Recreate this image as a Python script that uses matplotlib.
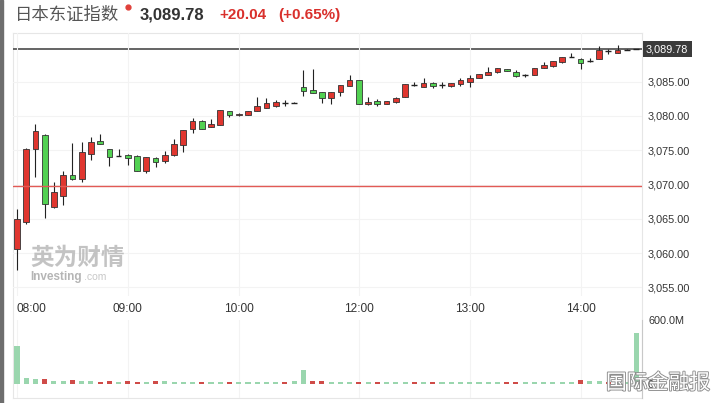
import numpy as np
import matplotlib.pyplot as plt
import matplotlib.patheffects as pe
from matplotlib.lines import Line2D

plt.rcParams['font.family'] = ['Liberation Sans', 'Noto Sans CJK SC', 'DejaVu Sans']

# 5-minute candles, 08:00-10:30 and 11:30-14:30 (Beijing time)
opens = [3060.54, 3064.57, 3075.18, 3077.22, 3066.72, 3068.32, 3071.39, 3070.80, 3074.45, 3076.35,
         3075.18, 3074.18, 3074.35, 3074.16, 3072.01, 3073.91, 3073.39, 3074.26, 3075.76, 3078.05,
         3079.27, 3078.43, 3078.73, 3080.68, 3080.14, 3080.19, 3080.73, 3081.21, 3081.50, 3081.85,
         3081.94, 3084.27, 3083.79, 3083.45, 3082.58, 3083.45, 3084.42, 3085.25, 3081.70, 3082.18,
         3081.75, 3081.99, 3082.72, 3084.52, 3084.27, 3084.77, 3084.52, 3084.37, 3084.67, 3085.00,
         3085.54, 3085.98, 3086.37, 3086.85, 3086.42, 3086.02, 3086.02, 3087.00, 3087.25, 3087.83,
         3088.60, 3088.31, 3087.98, 3088.36, 3089.44, 3089.19, 3089.67, 3089.78]
highs = [3066.42, 3075.33, 3078.83, 3077.30, 3070.41, 3071.97, 3076.10, 3076.20, 3076.97, 3077.37,
         3075.25, 3075.22, 3074.45, 3074.30, 3074.05, 3073.95, 3074.89, 3076.68, 3078.00, 3079.70,
         3079.42, 3079.51, 3080.90, 3080.75, 3080.45, 3080.75, 3082.70, 3082.58, 3082.33, 3082.26,
         3082.00, 3086.71, 3086.81, 3083.50, 3083.50, 3084.55, 3085.98, 3085.30, 3082.72, 3082.43,
         3082.20, 3082.70, 3084.65, 3084.91, 3085.50, 3085.00, 3085.00, 3084.80, 3085.50, 3085.98,
         3086.15, 3087.19, 3087.00, 3086.90, 3086.71, 3086.10, 3087.05, 3087.88, 3088.00, 3088.65,
         3089.19, 3088.46, 3088.46, 3090.17, 3089.80, 3090.40, 3089.75, 3089.80]
lows = [3057.52, 3064.24, 3071.14, 3065.11, 3066.60, 3067.01, 3070.70, 3070.41, 3073.58, 3075.85,
        3072.70, 3074.10, 3072.85, 3071.95, 3071.72, 3072.51, 3073.09, 3074.20, 3074.79, 3077.47,
        3078.05, 3078.40, 3078.70, 3079.81, 3080.05, 3080.15, 3080.70, 3081.15, 3081.31, 3081.46,
        3081.90, 3082.91, 3083.35, 3081.85, 3081.75, 3082.91, 3084.40, 3081.70, 3081.65, 3081.45,
        3081.70, 3081.95, 3082.70, 3084.37, 3084.25, 3084.04, 3084.04, 3084.30, 3084.37, 3084.18,
        3085.50, 3085.95, 3086.30, 3086.50, 3085.75, 3085.70, 3086.00, 3086.95, 3087.20, 3087.80,
        3088.55, 3086.90, 3087.90, 3088.30, 3089.10, 3089.15, 3089.60, 3089.76]
closes = [3064.97, 3075.14, 3077.81, 3067.15, 3068.95, 3071.39, 3070.80, 3074.79, 3076.20, 3075.91,
          3074.06, 3074.14, 3073.91, 3072.01, 3074.01, 3073.28, 3074.26, 3075.91, 3077.95, 3079.27,
          3078.05, 3078.83, 3080.87, 3080.19, 3080.36, 3080.68, 3081.50, 3081.85, 3081.99, 3081.86,
          3081.94, 3083.69, 3083.40, 3082.58, 3083.45, 3084.52, 3085.25, 3081.70, 3082.08, 3081.75,
          3082.18, 3082.67, 3084.62, 3084.53, 3084.77, 3084.37, 3084.53, 3084.77, 3085.25, 3085.50,
          3086.12, 3086.42, 3086.96, 3086.52, 3085.79, 3086.03, 3087.00, 3087.48, 3087.98, 3088.60,
          3088.61, 3087.73, 3087.99, 3089.67, 3089.45, 3089.67, 3089.67, 3089.78]
# volume in millions
volumes = [356, 56, 47, 47, 28, 28, 38, 28, 28, 19,
           28, 15, 28, 19, 19, 28, 28, 19, 19, 19,
           19, 19, 19, 19, 19, 19, 19, 19, 19, 19,
           28, 131, 30, 30, 18, 18, 18, 18, 18, 18,
           18, 18, 18, 18, 18, 18, 18, 18, 18, 18,
           18, 18, 18, 18, 18, 18, 18, 18, 18, 18,
           18, 38, 28, 28, 18, 18, 18, 478]

prev_close = 3069.74
last_price = 3089.78
time_ticks = [0, 12, 24, 37, 49, 61]
time_labels = ['08:00', '09:00', '10:00', '12:00', '13:00', '14:00']
price_ticks = [3055, 3060, 3065, 3070, 3075, 3080, 3085]

W, H = 719, 403
fig = plt.figure(figsize=(W / 100, H / 100), dpi=100)


def px_axes(l, t, r, b):
    return fig.add_axes([l / W, 1 - b / H, (r - l) / W, (b - t) / H])


def fx(x):
    return x / W


def fy(y):
    return 1 - y / H


x = np.arange(len(opens))
o = np.array(opens)
c = np.array(closes)
xlim = (-0.43, -0.43 + 628.5 / 9.24)

# outer frame
frame = px_axes(13, 33, 641.5, 398)
frame.set_xticks([])
frame.set_yticks([])
for s in frame.spines.values():
    s.set_color('#e6e6e6')
    s.set_linewidth(0.8)
frame.set_zorder(-1)

# price panel
ax = px_axes(13, 33, 641.5, 296)
ax.set_facecolor('none')
ax.set_xlim(*xlim)
ax.set_ylim(3053.73, 3092.11)
for s in ax.spines.values():
    s.set_visible(False)
ax.grid(True, color='#f3f3f3', lw=0.8, zorder=0)

ax.axhline(last_price, color='#4a4a4a', lw=1.2, zorder=1)

up = c > o
doji = np.abs(c - o) < 0.05
body_w = 0.62
ax.vlines(x, lows, highs, color='#222222', lw=0.8, zorder=3)
normal = ~doji
ax.bar(x[normal], np.abs(c - o)[normal], bottom=np.minimum(o, c)[normal], width=body_w,
       color=np.where(up, '#e0362f', '#52d152')[normal], edgecolor='#333333', lw=0.6, zorder=4)
ax.hlines(c[doji], x[doji] - body_w / 2, x[doji] + body_w / 2, color='#222222', lw=1.0, zorder=4)

ax.axhline(prev_close, color='#e25a55', lw=1.0, zorder=5)

ax.set_xticks(time_ticks)
ax.set_xticklabels(time_labels)
ax.get_xticklabels()[0].set_ha('left')
ax.tick_params(axis='x', length=0, pad=5, labelsize=8.6, labelcolor='#333333')
ax.yaxis.tick_right()
ax.set_yticks(price_ticks)
ax.set_yticklabels([f'{v:,.2f}' for v in price_ticks])
ax.tick_params(axis='y', length=0, pad=4.7, labelsize=7.8, labelcolor='#333333')

# volume panel
vax = px_axes(13, 320, 641.5, 398)
vax.set_facecolor('none')
vax.set_xlim(*xlim)
vax.set_ylim(-131, 600)
for k, s in vax.spines.items():
    s.set_visible(k == 'right')
vax.spines['right'].set_color('#c8c8c8')
prev = np.concatenate([[o[0]], c[:-1]])
vcol = np.where(c >= prev, '#9ad6ae', '#cf4b48')
vax.bar(x, volumes, width=0.55, color=vcol, zorder=3)
vax.set_xticks(time_ticks)
vax.set_xticklabels([])
vax.grid(True, axis='x', color='#f3f3f3', lw=0.8, zorder=0)
vax.yaxis.tick_right()
vax.set_yticks([0, 600])
vax.set_yticklabels(['0', '600.0M'])
vax.tick_params(axis='y', length=0, pad=4.7, labelsize=7.8, labelcolor='#333333')
vax.tick_params(axis='x', length=0)

# last price tag
fig.text(fx(646), fy(49), f'{last_price:,.2f}', color='white', fontsize=7.8, va='center', ha='left',
         bbox=dict(boxstyle='square,pad=0.3', fc='#3b3b3b', ec='none'))

# header
fig.text(fx(15), fy(15), '日本东证指数', fontsize=12.5, color='#555555', va='center',
         family=['Noto Sans CJK SC', 'DejaVu Sans'])
fig.add_artist(Line2D([fx(128)], [fy(7)], marker='o', ms=3.5, color='#e0403a', transform=fig.transFigure))
fig.text(fx(140), fy(15), '3,089.78', fontsize=12, fontweight='bold', color='#333333', va='center')
fig.text(fx(219), fy(15), '+20.04', fontsize=11, fontweight='bold', color='#d9302c', va='center')
fig.text(fx(278), fy(15), '(+0.65%)', fontsize=11, fontweight='bold', color='#d9302c', va='center')

# watermarks
fig.text(fx(30), fy(258), '英为财情', fontsize=17, fontweight='bold', color='#b5b5b5', alpha=0.8,
         va='center', family=['Noto Sans CJK SC', 'DejaVu Sans'])
fig.text(fx(30), fy(277), 'Investing', fontsize=8.5, fontweight='bold', color='#b5b5b5', va='center')
fig.text(fx(84), fy(277), '.com', fontsize=7.5, color='#c8c8c8', va='center')
fig.text(fx(606), fy(383), '国际金融报', fontsize=15, color='white', va='center',
         family=['Noto Sans CJK SC', 'DejaVu Sans'], zorder=10,
         path_effects=[pe.withStroke(linewidth=1.3, foreground='#8c8c8c')])

# screenshot left border
fig.add_artist(plt.Rectangle((0, 0), 3 / W, 1, transform=fig.transFigure, color='#6e6e6e'))

fig.savefig('out.png', dpi=100)
